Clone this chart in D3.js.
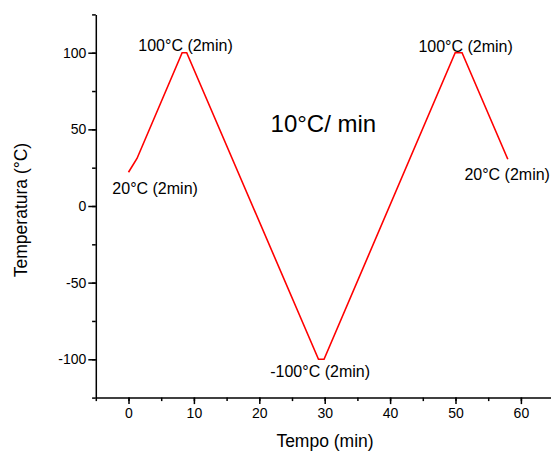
<!DOCTYPE html>
<html><head><meta charset="utf-8">
<script src="https://cdn.jsdelivr.net/npm/d3@7"></script>
<style>body{margin:0;background:#fff}svg{display:block}text{font-family:"Liberation Sans",Arial,sans-serif;fill:#000}</style>
</head><body><div id="chart"></div>
<script>
const time = [0, 1.3, 8.2, 8.9, 29.05, 29.9, 49.95, 51.0, 58.0];
const temperature = [22, 31, 100, 100, -100, -100, 100, 100, 30.5];
const xTicks = [0, 10, 20, 30, 40, 50, 60];
const yTicks = [-100, -50, 0, 50, 100];
const annoText = ["100°C (2min)", "20°C (2min)", "-100°C (2min)", "100°C (2min)", "20°C (2min)"];
const annoTime = [8.72, 4.07, 29.3, 51.55, 57.9];
const annoTemp = [100.8, 7.8, -111.6, 100.6, 17];
const rateLabel = "10°C/ min";

const W = 551, H = 454;
const x = d3.scaleLinear().domain([-5, 65]).range([95.8, 553.6]);
const y = d3.scaleLinear().domain([-125, 125]).range([397.6, 14.4]);

const svg = d3.select("#chart").append("svg").attr("width", W).attr("height", H);

function axisStyle(g){ g.select(".domain").attr("stroke-width",1.5); g.selectAll(".tick line").attr("stroke-width",1.5); }
const fmt = d => String(d);

// minor ticks
const xa = svg.append("g").attr("transform", `translate(0,${y(-125)})`);
xa.call(d3.axisBottom(x).tickValues(d3.range(-5, 66, 5)).tickSize(3.5).tickFormat("").tickSizeOuter(0));
xa.call(axisStyle);
const xaM = svg.append("g").attr("transform", `translate(0,${y(-125)})`);
xaM.call(d3.axisBottom(x).tickValues(xTicks).tickSize(6.5).tickPadding(4).tickFormat(fmt).tickSizeOuter(0));
xaM.select(".domain").remove();
xaM.selectAll(".tick line").attr("stroke-width",1.5);
xaM.selectAll("text").attr("font-size", 14).style("font-family", '"Liberation Sans",Arial,sans-serif');

const ya = svg.append("g").attr("transform", `translate(${x(-5)},0)`);
ya.call(d3.axisLeft(y).tickValues(d3.range(-125, 126, 25)).tickSize(3.7).tickFormat("").tickSizeOuter(0));
ya.call(axisStyle);
const yaM = svg.append("g").attr("transform", `translate(${x(-5)},0)`);
yaM.call(d3.axisLeft(y).tickValues(yTicks).tickSize(7.5).tickPadding(2).tickFormat(fmt).tickSizeOuter(0));
yaM.select(".domain").remove();
yaM.selectAll(".tick line").attr("stroke-width",1.5);
yaM.selectAll("text").attr("font-size", 14).style("font-family", '"Liberation Sans",Arial,sans-serif');

// line
const pts = time.map((t,i)=>[t, temperature[i]]);
svg.append("path").datum(pts)
  .attr("d", d3.line().x(d=>x(d[0])).y(d=>y(d[1])))
  .attr("fill","none").attr("stroke","#ff0000").attr("stroke-width",1.6);

// annotations
annoText.forEach((t,i)=>{
  svg.append("text").attr("x", x(annoTime[i])).attr("y", y(annoTemp[i]))
    .attr("text-anchor","middle").attr("font-size", 16).text(t);
});
svg.append("text").attr("x", x(29.8)).attr("y", y(48.2)).attr("text-anchor","middle")
  .attr("font-size", 24).text(rateLabel);

// axis titles
svg.append("text").attr("x", 325).attr("y", 447).attr("text-anchor","middle").attr("font-size", 17.5).text("Tempo (min)");
svg.append("text").attr("transform","translate(27,210) rotate(-90)").attr("text-anchor","middle").attr("font-size", 17.5).text("Temperatura (°C)");
</script></body></html>
